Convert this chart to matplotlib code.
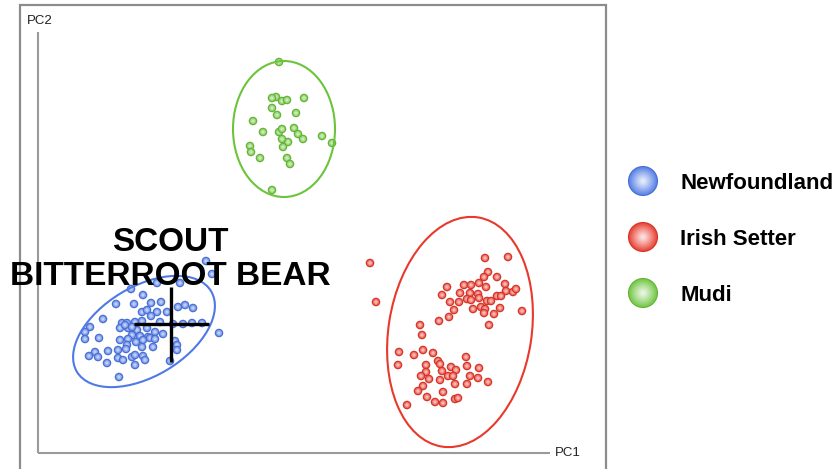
import numpy as np
import matplotlib
matplotlib.use("Agg")
import matplotlib.pyplot as plt
import matplotlib.colors as mcolors
from matplotlib.patches import Ellipse, Rectangle

plt.rcParams['font.family'] = ['Liberation Sans', 'DejaVu Sans']

# PCA scores (PC1, PC2) per breed
newf_pc1 = [3.36, 3.48, 2.38, 2.84, 1.86, 2.10, 1.56, 1.92, 2.26, 2.46, 2.80, 2.94, 3.10,
            2.08, 2.18, 2.38, 2.58, 2.26, 1.30, 1.68, 1.78, 1.94, 2.08, 2.44, 2.70, 2.90,
            3.08, 3.28, 1.04, 1.64, 1.80, 1.98, 2.18, 2.34, 2.50, 0.94, 3.62, 1.88, 2.04,
            2.20, 0.94, 1.22, 1.64, 1.80, 1.96, 2.10, 2.24, 2.34, 2.74, 2.78, 1.78, 2.08,
            2.30, 2.78, 1.14, 1.40, 1.60, 1.76, 1.02, 1.20, 1.38, 1.60, 1.70, 1.88, 1.94,
            2.10, 2.14, 2.64, 1.94, 1.62, 1.88, 1.74]
newf_pc2 = [3.84, 3.58, 3.40, 3.40, 3.28, 3.16, 2.98, 2.98, 3.00, 3.02, 2.92, 2.96, 2.90,
            2.82, 2.86, 2.82, 2.82, 2.74, 2.68, 2.60, 2.60, 2.62, 2.64, 2.62, 2.58, 2.58,
            2.60, 2.60, 2.52, 2.50, 2.50, 2.46, 2.50, 2.42, 2.38, 2.42, 2.40, 2.36, 2.34,
            2.32, 2.28, 2.30, 2.26, 2.28, 2.22, 2.26, 2.30, 2.28, 2.24, 2.16, 2.16, 2.12,
            2.12, 2.06, 2.02, 2.04, 2.06, 2.08, 1.94, 1.92, 1.80, 1.90, 1.86, 1.92, 1.96,
            1.94, 1.86, 1.84, 1.76, 1.52, 2.52, 2.56]

setter_pc1 = [6.64, 6.76, 8.94, 9.40, 9.00, 8.92, 9.18, 8.18, 8.52, 8.66, 8.82, 8.96, 9.34,
              9.36, 9.50, 9.56, 8.08, 8.44, 8.64, 8.80, 9.18, 9.26, 8.58, 8.66, 8.82, 8.98,
              9.06, 8.24, 8.42, 8.86, 8.94, 8.70, 9.24, 9.68, 8.32, 8.92, 9.12, 8.22, 8.02,
              9.02, 7.64, 7.68, 7.22, 7.52, 7.70, 7.90, 8.56, 8.00, 7.20, 7.76, 8.04, 8.58,
              8.26, 8.36, 8.82, 7.76, 8.08, 7.66, 8.20, 7.82, 8.04, 8.30, 8.64, 8.80, 9.00,
              7.70, 8.34, 8.58, 7.60, 8.10, 7.78, 7.94, 8.10, 8.34, 8.40, 7.38]
setter_pc2 = [3.80, 3.02, 3.90, 3.92, 3.62, 3.52, 3.52, 3.32, 3.36, 3.36, 3.40, 3.32, 3.38,
              3.24, 3.22, 3.28, 3.16, 3.20, 3.20, 3.18, 3.14, 3.14, 3.08, 3.06, 3.10, 3.04,
              3.04, 3.02, 3.02, 2.92, 2.88, 2.88, 2.90, 2.84, 2.86, 2.80, 2.78, 2.72, 2.64,
              2.56, 2.56, 2.36, 2.02, 1.96, 2.06, 2.00, 1.92, 1.84, 1.76, 1.76, 1.78, 1.74,
              1.72, 1.66, 1.70, 1.62, 1.64, 1.54, 1.54, 1.48, 1.46, 1.54, 1.54, 1.50, 1.42,
              1.34, 1.38, 1.38, 1.24, 1.22, 1.12, 1.02, 1.00, 1.08, 1.10, 0.96]

mudi_pc1 = [4.82, 4.76, 4.68, 4.88, 4.98, 5.32, 4.68, 4.78, 5.16, 4.30, 4.50, 4.82, 4.88,
            5.12, 5.20, 5.30, 5.00, 4.88, 4.90, 5.68, 5.88, 4.24, 4.26, 4.44, 4.98, 5.04, 4.68]
mudi_pc2 = [7.82, 7.12, 7.10, 7.04, 7.06, 7.10, 6.90, 6.76, 6.80, 6.64, 6.42, 6.42, 6.48,
            6.50, 6.38, 6.28, 6.22, 6.28, 6.12, 6.34, 6.20, 6.14, 6.02, 5.90, 5.90, 5.78, 5.26]

breeds = ['Newfoundland', 'Irish Setter', 'Mudi']
colors = ['#4f79e6', '#e8392b', '#6cc43c']
# confidence ellipses: centre, width, height, angle
ell_center = [(2.12, 2.43), (8.44, 2.42), (4.92, 6.48)]
ell_width = [3.13, 4.64, 2.04]
ell_height = [1.79, 2.86, 2.72]
ell_angle = [31, 81, 0]

# highlighted individual
hl_name = 'SCOUT\nBITTERROOT BEAR'
hl_pc1, hl_pc2 = 2.65, 2.58


def glossy(ax, x, y, color, size, layers=4, transform=None, zorder=3):
    base = np.array(mcolors.to_rgb(color))
    white = np.ones(3)
    xs, ys, ss, cs = [], [], [], []
    for xi, yi in zip(x, y):
        for k in range(layers):
            r = 1.0 - 0.85 * k / (layers - 1)
            if k == 0:
                c = base * 0.92
            else:
                c = base + (white - base) * (1 - r) ** 0.9 * 0.95
            xs.append(xi)
            ys.append(yi)
            ss.append(size * r ** 2)
            cs.append(c)
    kw = {}
    if transform is not None:
        kw['transform'] = transform
    ax.scatter(xs, ys, s=ss, c=cs, linewidths=0, zorder=zorder, **kw)


fig = plt.figure(figsize=(8.35, 4.69), dpi=100)
ax = fig.add_axes([0, 0, 1, 1])
ax.set_xlim(-0.76, 15.94)
ax.set_ylim(-0.32, 9.06)
ax.axis('off')

# outer frame and axes
ax.add_patch(Rectangle((-0.37, -0.44), 11.73, 9.4, fill=False, ec='#8c8c8c', lw=1.6))
ax.plot([0, 0], [0, 8.42], color='#9a9a9a', lw=1.5, solid_capstyle='butt')
ax.plot([0, 10.24], [0, 0], color='#9a9a9a', lw=1.5, solid_capstyle='butt')
ax.text(-0.22, 8.64, 'PC2', fontsize=9.5, color='#222222', va='center', ha='left')
ax.text(10.34, 0.0, 'PC1', fontsize=9.5, color='#222222', va='center', ha='left')

data = [(newf_pc1, newf_pc2), (setter_pc1, setter_pc2), (mudi_pc1, mudi_pc2)]
for (x, y), col, cen, w, h, a in zip(data, colors, ell_center, ell_width, ell_height, ell_angle):
    glossy(ax, x, y, col, 38)
    ax.add_patch(Ellipse(cen, w, h, angle=a, fill=False, ec=col, lw=1.5, zorder=4))

ax.plot(hl_pc1, hl_pc2, marker='+', ms=54, mew=2.4, color='black', zorder=5)
ax.text(hl_pc1 - 0.01, 3.87, hl_name, ha='center', va='center', fontsize=24,
        fontweight='bold', linespacing=1.1, zorder=6)

# legend
leg_y = [181, 237, 293]
for name, col, py in zip(breeds, colors, leg_y):
    fy = (469 - py) / 469
    glossy(ax, [643 / 835], [fy], col, 470, layers=12, transform=ax.transAxes)
    ax.text(680 / 835, fy - 2.5 / 469, name, transform=ax.transAxes, fontsize=16,
            fontweight='bold', va='center', ha='left')

fig.savefig('out.png', dpi=100)
